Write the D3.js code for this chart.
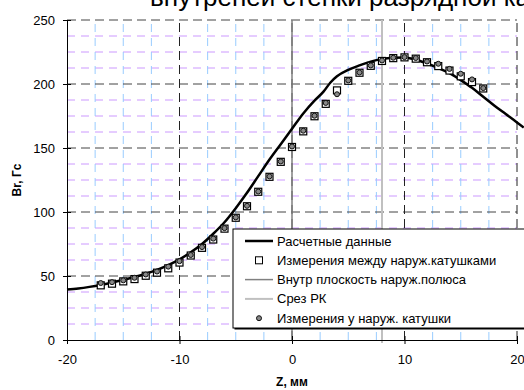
<!DOCTYPE html>
<html>
<head>
<meta charset="utf-8">
<script src="https://cdn.jsdelivr.net/npm/d3@7"></script>
<style>
  body { margin: 0; background: #fff; overflow: hidden; }
  text { font-family: "Liberation Sans", Arial, sans-serif; }
</style>
</head>
<body>
<div id="chart"></div>
<script>
// calculated curve (Br, Gs along Z, mm)
const calcZ = [-20, -19, -18, -17, -16, -15, -14, -13, -12, -11, -10, -9, -8, -7, -6, -5, -4, -3, -2, -1, 0,
    1, 2, 2.8, 3.4, 4, 5, 6, 7, 8, 9, 10, 11, 12, 13, 14, 15, 16, 17, 18, 19, 20, 20.6];
const calcBr = [39.5, 40.3, 41.5, 43, 44.8, 47, 49.2, 51.8, 54.8, 58.5, 63, 68.5, 75, 83, 92, 103, 115, 128, 141, 153, 165,
    177, 187, 194, 201, 206, 211, 214.5, 217.5, 219.5, 220.5, 220.8, 219, 216, 212.5, 208.5, 203, 197, 190, 183, 176.5, 170, 166];

// measurements
const measZ = [-17, -16, -15, -14, -13, -12, -11, -10, -9, -8, -7, -6, -5, -4, -3, -2, -1, 0,
    1, 2, 3, 4, 5, 6, 7, 8, 9, 10, 11, 12, 13, 14, 15, 16, 17];
const betweenBr = [42.7, 44, 45.8, 47.6, 50.2, 52.6, 56, 60.5, 66, 72, 78.5, 87, 95.5, 104.5, 115.8, 127.5, 139.2, 150.8,
    163, 174.8, 184.5, 195, 202.5, 208.8, 214.2, 218, 220.2, 220.8, 219.8, 217, 214, 210.5, 206, 201.5, 196.5];
const coilBr = [44.5, 45.2, 46.6, 48.6, 51.2, 53.5, 57.3, 61.6, 66.4, 72.6, 79.2, 87.4, 95.8, 104.8, 116, 127.8, 139.5, 151.2,
    163.5, 175.2, 185.2, 192, 202.8, 209, 214.5, 218.4, 220.5, 221, 220.3, 217.6, 215.8, 211.8, 208, 203.6, 196.8];

const polePlaneZ = 0;   // Внутр плоскость наруж.полюса
const rkCutZ = 8;       // Срез РК

const xTicks = [-20, -10, 0, 10, 20];
const yTicks = [0, 50, 100, 150, 200, 250];

const legendLabels = [
    'Расчетные данные',
    'Измерения  между наруж.катушками',
    'Внутр плоскость наруж.полюса',
    'Срез РК',
    'Измерения у наруж. катушки'
];

const titleText = 'внутреней стенки разрядной камеры';

const width = 524, height = 390;
const svg = d3.select('#chart').append('svg')
    .attr('width', width).attr('height', height);

const x = d3.scaleLinear().domain([-20, 20]).range([67, 517]);
const y = d3.scaleLinear().domain([0, 250]).range([340, 20]);

// minor grid
const g = svg.append('g');
g.selectAll('.hminor')
    .data(d3.range(12.5, 250, 12.5).filter(v => v % 50 !== 0))
    .enter().append('line')
    .attr('x1', x(-20)).attr('x2', x(20))
    .attr('y1', d => y(d)).attr('y2', d => y(d))
    .attr('stroke', '#cc99ff').attr('stroke-width', 1)
    .attr('stroke-dasharray', '8,6');

g.selectAll('.vminor')
    .data(d3.range(-17.5, 20, 2.5).filter(v => v % 10 !== 0))
    .enter().append('line')
    .attr('y1', y(0)).attr('y2', y(250))
    .attr('x1', d => x(d)).attr('x2', d => x(d))
    .attr('stroke', '#99ccff').attr('stroke-width', 1)
    .attr('stroke-dasharray', '8,6');

// major grid
g.selectAll('.hmajor')
    .data(yTicks.filter(v => v > 0))
    .enter().append('line')
    .attr('x1', x(-20)).attr('x2', x(20))
    .attr('y1', d => y(d)).attr('y2', d => y(d))
    .attr('stroke', '#444').attr('stroke-width', 1)
    .attr('stroke-dasharray', '9,5');

g.selectAll('.vmajor')
    .data(xTicks.filter(v => v > -20))
    .enter().append('line')
    .attr('y1', y(0)).attr('y2', y(250))
    .attr('x1', d => x(d)).attr('x2', d => x(d))
    .attr('stroke', '#222').attr('stroke-width', 1)
    .attr('stroke-dasharray', '9,5');

// vertical reference lines
svg.append('line')
    .attr('x1', x(polePlaneZ)).attr('x2', x(polePlaneZ))
    .attr('y1', y(0)).attr('y2', y(250))
    .attr('stroke', '#808080').attr('stroke-width', 1.5);
svg.append('line')
    .attr('x1', x(rkCutZ)).attr('x2', x(rkCutZ))
    .attr('y1', y(0) + 3).attr('y2', y(250))
    .attr('stroke', '#c0c0c0').attr('stroke-width', 2);

// axes
const yAxis = svg.append('g')
    .attr('transform', 'translate(' + x(-20) + ',0)')
    .call(d3.axisLeft(y).tickValues(yTicks).tickFormat(d => String(d)).tickSize(4).tickPadding(8));
yAxis.select('.domain').attr('stroke', '#000');
yAxis.selectAll('.tick line').attr('x2', 4).attr('x1', -4);
yAxis.selectAll('text').attr('font-size', 13).attr('fill', '#000')
    .attr('font-family', '"Liberation Sans", Arial, sans-serif');

const xAxis = svg.append('g')
    .attr('transform', 'translate(0,' + y(0) + ')')
    .call(d3.axisBottom(x).tickValues(xTicks).tickFormat(d => String(d)).tickSize(4).tickPadding(11));
xAxis.select('.domain').attr('stroke', '#000');
xAxis.selectAll('.tick line').attr('y1', -4).attr('y2', 4);
xAxis.selectAll('text').attr('font-size', 13).attr('fill', '#000')
    .attr('font-family', '"Liberation Sans", Arial, sans-serif');

// calculated curve
const calc = calcZ.map((z, i) => ({z: z, br: calcBr[i]}));
const line = d3.line()
    .x(d => x(d.z))
    .y(d => y(d.br))
    .curve(d3.curveMonotoneX);
svg.append('path')
    .datum(calc)
    .attr('d', line)
    .attr('fill', 'none')
    .attr('stroke', '#000')
    .attr('stroke-width', 2.5)
    .attr('stroke-linejoin', 'round');

// squares: measurements between coils
svg.selectAll('.sq')
    .data(measZ.map((z, i) => ({z: z, br: betweenBr[i]})))
    .enter().append('rect')
    .attr('x', d => x(d.z) - 3.5).attr('y', d => y(d.br) - 3.5)
    .attr('width', 7).attr('height', 7)
    .attr('fill', '#fff').attr('stroke', '#000').attr('stroke-width', 1.2);

// circles: measurements at outer coil
svg.selectAll('.ci')
    .data(measZ.map((z, i) => ({z: z, br: coilBr[i]})))
    .enter().append('circle')
    .attr('cx', d => x(d.z)).attr('cy', d => y(d.br))
    .attr('r', 2.5)
    .attr('fill', '#888').attr('stroke', '#111').attr('stroke-width', 1);

// title (only the lower part is visible)
svg.append('text')
    .attr('x', 150).attr('y', 6)
    .attr('font-family', '"Liberation Serif", "Times New Roman", serif')
    .attr('font-size', 26)
    .attr('fill', '#000')
    .text(titleText);

// axis titles
svg.append('text')
    .attr('transform', 'translate(21,180) rotate(-90)')
    .attr('text-anchor', 'middle')
    .attr('font-size', 12).attr('font-weight', 'bold')
    .text('Br, Гс');
svg.append('text')
    .attr('x', 292).attr('y', 386)
    .attr('text-anchor', 'middle')
    .attr('font-size', 12).attr('font-weight', 'bold')
    .text('Z, мм');

// legend
const lg = svg.append('g').attr('transform', 'translate(233,229)');
lg.append('rect')
    .attr('x', 1.5).attr('y', 1.5).attr('width', 310).attr('height', 99)
    .attr('fill', '#000');
lg.append('rect')
    .attr('x', 0).attr('y', 0).attr('width', 310).attr('height', 99)
    .attr('fill', '#fff').attr('stroke', '#000').attr('stroke-width', 1);

const rowY = d3.range(legendLabels.length).map(i => 12 + i * 19.3);
lg.selectAll('.lt')
    .data(legendLabels)
    .enter().append('text')
    .attr('x', 44).attr('y', (d, i) => rowY[i] + 4.5)
    .attr('font-size', 13).attr('fill', '#000')
    .text(d => d);

lg.append('line').attr('x1', 12).attr('x2', 40)
    .attr('y1', rowY[0]).attr('y2', rowY[0])
    .attr('stroke', '#000').attr('stroke-width', 2.5);
lg.append('rect').attr('x', 22.5).attr('y', rowY[1] - 3.5)
    .attr('width', 7).attr('height', 7)
    .attr('fill', '#fff').attr('stroke', '#000');
lg.append('line').attr('x1', 12).attr('x2', 40)
    .attr('y1', rowY[2]).attr('y2', rowY[2])
    .attr('stroke', '#808080').attr('stroke-width', 1.5);
lg.append('line').attr('x1', 12).attr('x2', 40)
    .attr('y1', rowY[3]).attr('y2', rowY[3])
    .attr('stroke', '#c0c0c0').attr('stroke-width', 2);
lg.append('circle').attr('cx', 26).attr('cy', rowY[4])
    .attr('r', 2.5).attr('fill', '#888').attr('stroke', '#111');
</script>
</body>
</html>
